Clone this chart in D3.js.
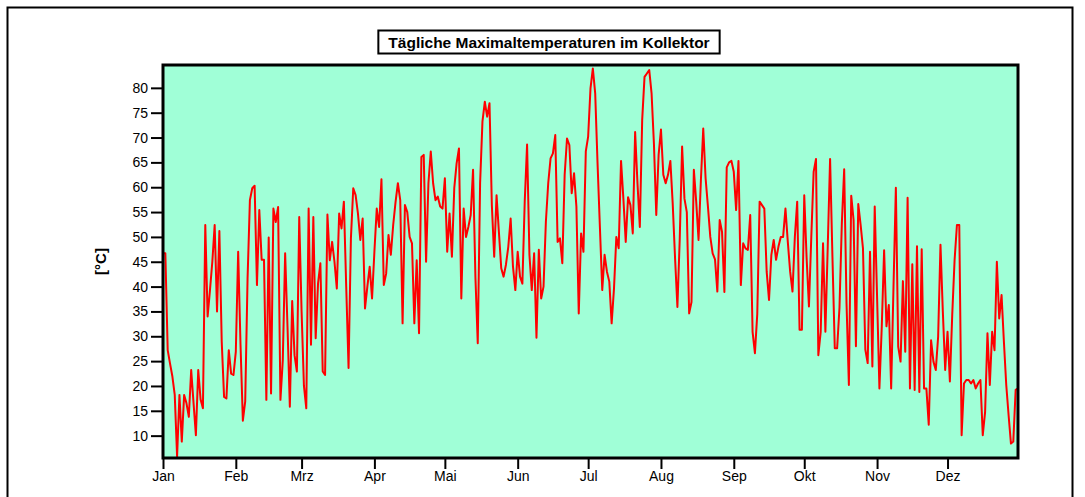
<!DOCTYPE html>
<html>
<head>
<meta charset="utf-8">
<script src="https://cdn.jsdelivr.net/npm/d3@7"></script>
<style>
  body { margin: 0; background: #fff; }
  text { font-family: Arial, "Liberation Sans", sans-serif; fill: #000; }
</style>
</head>
<body>
<div id="chart"></div>
<script>
// daily maximum collector temperatures [°C], one array per month
const jan = [46.7, 46.7, 27.2, 24.5, 21.9, 18.2, 5.8, 18.2, 8.8, 18.2, 16.5, 13.8, 23.2, 16.6, 10.1, 23.2,
             17.3, 15.5, 52.4, 34, 39.3, 45, 52.4, 35, 51.2, 28.9, 17.8, 17.5, 27.2, 22.5, 22.2];
const feb = [26.9, 47, 28.3, 13, 16.9, 41.6, 57.4, 59.8, 60.3, 40.3, 55.4, 45.4, 45.4, 17.2, 49.9, 18.5,
             55.7, 53, 56, 17.2, 25.2, 46.7, 32, 15.8, 37.1, 26.2, 22.9, 54];
const mar = [35, 20, 15.5, 55.7, 28.3, 54, 29.6, 40.6, 44.7, 22.9, 22.2, 54.5, 45.3, 49, 45, 39.6,
             54.7, 51.7, 57.1, 40, 23.6, 49.7, 59.8, 58.4, 54.7, 49.4, 53.7, 35.6, 40, 44, 37.6];
const apr = [47, 55.7, 52, 61.6, 40.3, 42.6, 50.4, 46.4, 52.4, 57, 60.8, 57.4, 32.6, 56.4, 55, 50,
             48.7, 32.6, 45.3, 30.6, 66.1, 66.5, 45, 60.8, 67.2, 60.8, 57.4, 58.1, 56.1, 55.7];
const may = [61.8, 47, 54.7, 46, 59.8, 64.8, 67.8, 37.6, 55.7, 50, 52, 54.4, 63.5, 42, 28.6, 60.8,
             73.2, 77.2, 74.2, 76.9, 56.4, 46, 58.4, 51, 43.7, 42, 44.4, 48, 53.7, 44, 39.3];
const jun = [47, 42, 40.6, 57.1, 68.6, 46.4, 39.3, 46.7, 29.7, 47.4, 37.6, 40, 53, 60.8, 65.8, 66.8,
             70.5, 49, 49.7, 44.7, 62.5, 69.8, 68.5, 58.8, 62.8, 56.1, 34.6, 50.7, 47, 67.2];
const jul = [70.2, 79.9, 83.9, 78.9, 64.8, 52, 39.3, 46.4, 43, 41, 32.6, 39.6, 50, 47.7, 65.3, 57.7,
             49, 58, 56.4, 50.7, 71.1, 60.8, 52, 73.5, 82.2, 82.9, 83.6, 78.9, 68.8, 54.4, 66.5];
const aug = [71.6, 62.5, 60.8, 62.5, 65.3, 56.7, 45.7, 35.9, 49.7, 68.2, 57.7, 55, 34.6, 36.9, 63.5, 57.1,
             49.4, 61.4, 71.8, 61.8, 56.1, 50, 46.7, 45.5, 39, 53.4, 51, 38.9, 64, 65, 65.3];
const sep = [63.1, 55.4, 65.3, 40.3, 48.7, 47.7, 47.4, 54.4, 30.9, 26.6, 34.5, 57.1, 56.4, 55.7, 43, 37.3,
             46.4, 49.4, 45.4, 48, 50, 50, 55.7, 49, 43, 39, 50, 57.1, 31.3, 31.3];
const oct = [58.4, 45.8, 36, 50, 63.1, 65.7, 26.2, 30.9, 48.7, 30.9, 48, 65.7, 46, 27.6, 27.6, 35.8,
             52.7, 63.6, 36.6, 20.2, 58.3, 53.4, 28, 56.6, 52.4, 47.7, 27.3, 24.6, 47, 23.9, 56.1];
const nov = [38, 19.5, 31.9, 47.3, 32, 36.3, 19.5, 40, 59.9, 27.9, 24.9, 41.1, 26.9, 57.9, 19.5, 44.5,
             19.2, 48.1, 18.8, 47.5, 19.5, 19.5, 12.2, 29.2, 24.9, 23.2, 29.9, 48.4, 35, 23.2];
const dec = [30.9, 20.9, 34.3, 45.3, 52.4, 52.4, 10.1, 20.5, 21.2, 21.2, 20.5, 21.2, 19.5, 20.5, 21.2, 10.1,
             14.8, 30.6, 20.2, 30.9, 27.2, 45, 33.6, 38.3, 28.9, 20.2, 14.1, 8.4, 8.8, 19.2, 19.5];

const monthNames = ["Jan", "Feb", "Mrz", "Apr", "Mai", "Jun", "Jul", "Aug", "Sep", "Okt", "Nov", "Dez"];
const yTicks = [10, 15, 20, 25, 30, 35, 40, 45, 50, 55, 60, 65, 70, 75, 80];
const titleText = "Tägliche Maximaltemperaturen im Kollektor";
const yLabel = "[°C]";

const monthly = [jan, feb, mar, apr, may, jun, jul, aug, sep, oct, nov, dec];
const temps = [].concat(...monthly);
let monthStart = [], n = 0;
monthly.forEach(function (m) { monthStart.push(n); n += m.length; });

const width = 1085, height = 497;
const plot = {left: 163, top: 65, right: 1018, bottom: 458};

let svg = d3.select("#chart")
    .append("svg")
    .attr("width", width)
    .attr("height", height);

// outer frame
svg.append("rect")
    .attr("x", 7.5).attr("y", 7.5)
    .attr("width", 1065).attr("height", 520)
    .attr("fill", "none")
    .attr("stroke", "#000")
    .attr("stroke-width", 2);

let x = d3.scaleLinear()
    .domain([0, temps.length - 1])
    .range([plot.left, plot.right]);

let y = d3.scaleLinear()
    .domain([5.5, 84.6])
    .range([plot.bottom, plot.top]);

// plot background
svg.append("rect")
    .attr("x", plot.left).attr("y", plot.top)
    .attr("width", plot.right - plot.left)
    .attr("height", plot.bottom - plot.top)
    .attr("fill", "#a0ffd7");

// y axis
let yAxis = svg.append("g")
    .attr("transform", `translate(${plot.left}, 0)`)
    .call(d3.axisLeft(y).tickValues(yTicks).tickSize(12).tickPadding(3));
yAxis.select(".domain").remove();
yAxis.selectAll("line").attr("stroke", "#000").attr("stroke-width", 2);
yAxis.selectAll("text").attr("font-size", 14).attr("font-family", "Arial, 'Liberation Sans', sans-serif");

// x axis with month ticks
let xAxis = svg.append("g")
    .attr("transform", `translate(0, ${plot.bottom})`)
    .call(d3.axisBottom(x).tickValues(monthStart)
        .tickFormat((d, i) => monthNames[i]).tickSize(11).tickPadding(2));
xAxis.select(".domain").remove();
xAxis.selectAll("line").attr("stroke", "#000").attr("stroke-width", 2);
xAxis.selectAll("text").attr("font-size", 14).attr("font-family", "Arial, 'Liberation Sans', sans-serif");

// temperature line
let line = d3.line()
    .x((d, i) => x(i))
    .y(d => y(d));

svg.append("path")
    .datum(temps)
    .attr("d", line)
    .attr("fill", "none")
    .attr("stroke", "#ff0000")
    .attr("stroke-width", 2)
    .attr("stroke-linejoin", "round");

// plot border on top
svg.append("rect")
    .attr("x", plot.left).attr("y", plot.top)
    .attr("width", plot.right - plot.left)
    .attr("height", plot.bottom - plot.top)
    .attr("fill", "none")
    .attr("stroke", "#000")
    .attr("stroke-width", 3);

// y label
svg.append("text")
    .attr("transform", `translate(106, ${(plot.top + plot.bottom) / 2}) rotate(-90)`)
    .style("text-anchor", "middle")
    .attr("font-size", 15)
    .attr("font-weight", "bold")
    .text(yLabel);

// title in a box
let titleBox = svg.append("rect");
let title = svg.append("text")
    .attr("x", 549).attr("y", 47.5)
    .style("text-anchor", "middle")
    .attr("font-size", 15.5)
    .attr("font-weight", "bold")
    .text(titleText);
let bb = title.node().getBBox();
titleBox
    .attr("x", bb.x - 10).attr("y", 30.5)
    .attr("width", bb.width + 20).attr("height", 23)
    .attr("fill", "#fff")
    .attr("stroke", "#000")
    .attr("stroke-width", 2);
</script>
</body>
</html>
